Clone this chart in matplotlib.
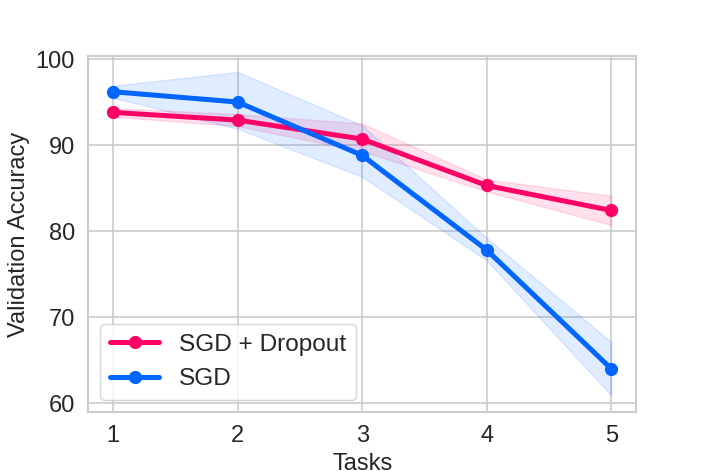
import numpy as np
import matplotlib
matplotlib.use("Agg")
import matplotlib.pyplot as plt
import seaborn as sns

tasks = [1, 2, 3, 4, 5]

dropout_mean = [93.8, 92.9, 90.7, 85.3, 82.4]
dropout_low = [93.3, 92.2, 89.3, 84.6, 80.7]
dropout_high = [94.3, 93.6, 92.5, 86.0, 84.1]

sgd_mean = [96.2, 95.0, 88.8, 77.8, 64.0]
sgd_low = [95.5, 91.9, 86.3, 76.6, 60.9]
sgd_high = [96.9, 98.5, 92.3, 79.2, 67.1]

series_names = ["SGD + Dropout", "SGD"]
colors = ["#ff0066", "#0066ff"]

sns.set_style("whitegrid")
plt.rcParams['font.family'] = ['Liberation Sans', 'DejaVu Sans']

fig = plt.figure(figsize=(7.06, 4.71), dpi=100)
ax = fig.add_axes([0.125, 0.125, 0.776, 0.756])

for name, c, m, lo, hi in [(series_names[0], colors[0], dropout_mean, dropout_low, dropout_high),
                           (series_names[1], colors[1], sgd_mean, sgd_low, sgd_high)]:
    ax.fill_between(tasks, lo, hi, color=c, alpha=0.12, linewidth=1)
    ax.plot(tasks, m, color=c, marker='o', linewidth=3.6, markersize=8.5, label=name)

ax.set_xlim(0.8, 5.2)
ax.set_ylim(58.95, 100.35)
ax.set_xticks(tasks)
ax.set_yticks([60, 70, 80, 90, 100])
ax.tick_params(labelsize=17, colors='#262626', pad=6)
ax.set_xlabel("Tasks", fontsize=17, color='#262626')
ax.set_ylabel("Validation Accuracy", fontsize=17, color='#262626')
for s in ax.spines.values():
    s.set_color('#cccccc')
    s.set_linewidth(1.5)
ax.grid(color='#cccccc', linewidth=1.2)

ax.legend(loc='lower left', fontsize=17.6, frameon=True, handlelength=2.0)

fig.savefig("out.png", dpi=100)
